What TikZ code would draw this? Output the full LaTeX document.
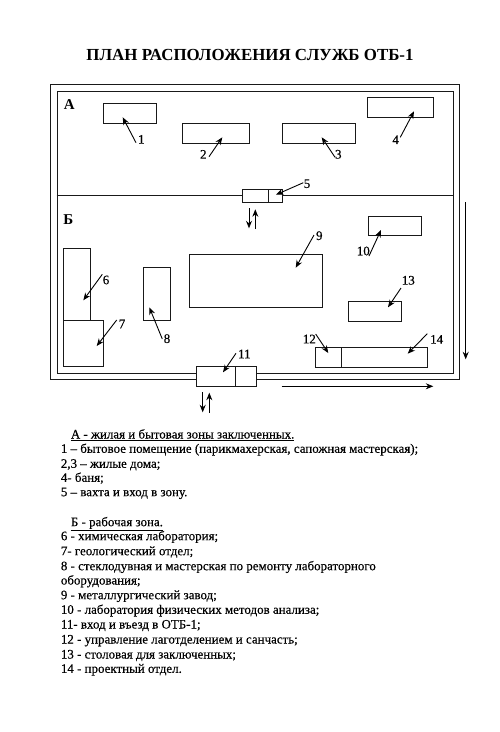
\documentclass[tikz,border=0pt]{standalone}
\usepackage{fontspec}
\setmainfont{Liberation Serif}
\newfontfamily\heavy[FakeBold=0.35]{Liberation Serif}
\usetikzlibrary{arrows.meta}
\tikzset{
  room/.style={draw=black!90,fill=white,line width=1pt},
  wall/.style={draw=black!90,line width=1pt},
  ptr/.style={draw=black,line width=0.9pt,-{Stealth[length=7.5pt,width=6pt]}},
  num/.style={inner sep=0pt,font=\fontsize{13}{15}\selectfont\heavy},
  zone/.style={inner sep=0pt,font=\fontsize{15}{17}\selectfont\bfseries},
  item/.style={inner sep=0pt,anchor=base west,font=\fontsize{12.95}{15}\selectfont\heavy},
}
\newcommand{\roombox}[5]{\node[room,minimum width=#4pt,minimum height=#5pt,inner sep=0pt,anchor=north west] (#1) at (#2,#3) {};}
\begin{document}
\begin{tikzpicture}[x=1pt,y=-1pt]
\useasboundingbox (0,0) rectangle (500,732);
\node[inner sep=0pt,font=\fontsize{16.9}{20}\selectfont\bfseries] (title) at (250,55) {ПЛАН РАСПОЛОЖЕНИЯ СЛУЖБ ОТБ-1};
% walls
\node[wall,minimum width=409pt,minimum height=295pt,inner sep=0pt,anchor=north west] (outer) at (50,84) {};
\node[wall,minimum width=396.5pt,minimum height=282.5pt,inner sep=0pt,anchor=north west] (inner) at (56.7,90.7) {};
\coordinate (divL) at (56.7,195.7);
\coordinate (divR) at (453,195.7);
\draw[wall] (divL) -- (divR);
% rooms
\roombox{r1}{102.7}{103.3}{53.3}{20}
\roombox{r2}{182.3}{123.3}{66.7}{20}
\roombox{r3}{281.7}{123.3}{73}{20}
\roombox{r4}{367.3}{97.3}{66}{20}
\roombox{r5}{242}{189}{40.3}{13.3}
\draw[wall] (268.3,189) -- (268.3,202.3);
\roombox{r10}{367.7}{215.7}{53}{19.6}
\roombox{r6}{63.3}{247.7}{26.7}{72.3}
\roombox{r7}{63.3}{320}{40}{46}
\roombox{r8}{142.7}{267.3}{27}{53}
\roombox{r9}{189.3}{254.3}{132.7}{53}
\roombox{r13}{348}{301}{53}{19.7}
\roombox{r12}{315}{347}{112.3}{19.7}
\draw[wall] (341.7,347) -- (341.7,366.7);
\roombox{r11}{195.7}{366}{60}{20}
\draw[wall] (235.7,366) -- (235.7,386);
% zone letters
\node[zone] (za) at (69.3,104.3) {А};
\node[zone] (zb) at (68.3,219.7) {Б};
% number labels
\node[num] (n1) at (141.3,139.3) {1};
\node[num] (n2) at (203.3,154.3) {2};
\node[num] (n3) at (338.3,154.3) {3};
\node[num] (n4) at (395.7,139.7) {4};
\node[num] (n5) at (307,183.7) {5};
\node[num] (n6) at (106,280) {6};
\node[num] (n7) at (122,324) {7};
\node[num] (n8) at (167,338.7) {8};
\node[num] (n9) at (319.3,235.7) {9};
\node[num] (n10) at (363.3,251) {10};
\node[num] (n11) at (244.3,354) {11};
\node[num] (n12) at (309.3,339) {12};
\node[num] (n13) at (408.3,280.3) {13};
\node[num] (n14) at (436.7,339.3) {14};
% pointer ends
\coordinate (t1) at (136,142.7); \coordinate (h1) at (122.7,117.3);
\coordinate (t2) at (209,156.7); \coordinate (h2) at (222.3,137.3);
\coordinate (t3) at (335,157.3); \coordinate (h3) at (321.7,137.3);
\coordinate (t4) at (400.3,137.3); \coordinate (h4) at (414,111.3);
\coordinate (t5) at (303.3,182.7); \coordinate (h5) at (276,194.7);
\coordinate (t6) at (102.3,274.3); \coordinate (h6) at (83.3,300.3);
\coordinate (t7) at (116.7,320); \coordinate (h7) at (96.7,346);
\coordinate (t8) at (162.3,339); \coordinate (h8) at (149.3,307.3);
\coordinate (t9) at (314,235); \coordinate (h9) at (295.7,267.7);
\coordinate (t10) at (369,256); \coordinate (h10) at (381,230);
\coordinate (t11) at (236,353.3); \coordinate (h11) at (223,372.3);
\coordinate (t12) at (315.7,334); \coordinate (h12) at (328.3,353);
\coordinate (t13) at (401,288); \coordinate (h13) at (388,307.3);
\coordinate (t14) at (427.3,333.7); \coordinate (h14) at (407.7,353.7);
\foreach \i in {1,...,14} \draw[ptr] (t\i) -- (h\i);
% traffic arrows
\coordinate (a1) at (249,208.3); \coordinate (a2) at (249,228.3);
\coordinate (a3) at (255.3,229); \coordinate (a4) at (255.3,209.3);
\coordinate (a5) at (202.7,392.3); \coordinate (a6) at (202.7,412.3);
\coordinate (a7) at (209.3,412.7); \coordinate (a8) at (209.3,392.7);
\coordinate (a9) at (281.7,386.3); \coordinate (a10) at (433.3,386.3);
\coordinate (a11) at (465.7,202.3); \coordinate (a12) at (465.7,359.3);
\draw[ptr] (a1) -- (a2);
\draw[ptr] (a3) -- (a4);
\draw[ptr] (a5) -- (a6);
\draw[ptr] (a7) -- (a8);
\draw[ptr] (a9) -- (a10);
\draw[ptr] (a11) -- (a12);
% legend
\node[item] (l0) at (70.7,438.5) {\underline{А - жилая и бытовая зоны заключенных.}};
\node[item] (l1) at (60.7,452.8) {1 – бытовое помещение (парикмахерская, сапожная мастерская);};
\node[item] (l2) at (60.7,467.8) {2,3 – жилые дома;};
\node[item] (l3) at (60.7,481.8) {4- баня;};
\node[item] (l4) at (60.7,496.2) {5 – вахта и вход в зону.};
\node[item] (l5) at (70.7,526.2) {\underline{Б - рабочая зона.}};
\node[item] (l6) at (60.7,540.2) {6 - химическая лаборатория;};
\node[item] (l7) at (60.7,555.2) {7- геологический отдел;};
\node[item] (l8) at (60.7,570.2) {8 - стеклодувная и мастерская по ремонту лабораторного};
\node[item] (l9) at (60.7,584.5) {оборудования;};
\node[item] (l10) at (60.7,599.2) {9 - металлургический завод;};
\node[item] (l11) at (60.7,613.8) {10 - лаборатория физических методов анализа;};
\node[item] (l12) at (60.7,628.5) {11- вход и въезд в ОТБ-1;};
\node[item] (l13) at (60.7,643.5) {12 - управление лаготделением и санчасть;};
\node[item] (l14) at (60.7,658.5) {13 - столовая для заключенных;};
\node[item] (l15) at (60.7,672.8) {14 - проектный отдел.};
\end{tikzpicture}
\end{document}
